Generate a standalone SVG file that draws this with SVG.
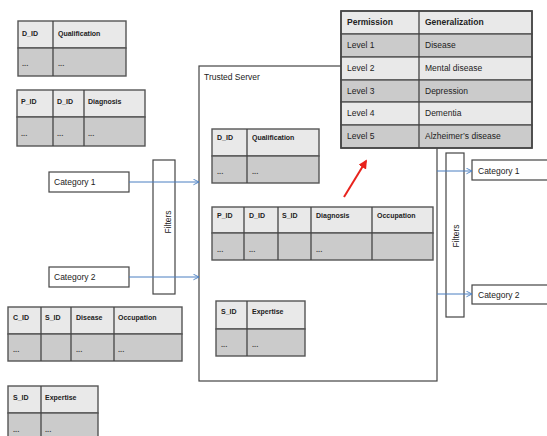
<svg xmlns="http://www.w3.org/2000/svg" width="547" height="436" viewBox="0 0 547 436">
<defs>
<style>
.hd{fill:#e9e9e9;stroke:#555;stroke-width:1.4}
.dt{fill:#cbcbcb;stroke:#555;stroke-width:1.4}
.cl{stroke:#444;stroke-width:1.3}
.th{font-family:"Liberation Sans",Arial,sans-serif;font-size:7px;font-weight:bold;fill:#222}
.td{font-family:"Liberation Sans",Arial,sans-serif;font-size:7.5px;font-weight:bold;fill:#444}
.pt{font-family:"Liberation Sans",Arial,sans-serif;font-size:8.5px;fill:#222}
.pb{font-family:"Liberation Sans",Arial,sans-serif;font-size:8.5px;font-weight:bold;fill:#222}
.lb{font-family:"Liberation Sans",Arial,sans-serif;font-size:8.5px;fill:#222}
.box{fill:#fff;stroke:#444;stroke-width:1.2}
.flt{fill:#fff;stroke:#444;stroke-width:1.2}
.arr{stroke:#4a7fc1;stroke-width:1;fill:none}
</style>
<marker id="ah" viewBox="0 0 10 10" refX="9" refY="5" markerWidth="7" markerHeight="7" orient="auto" markerUnits="userSpaceOnUse">
<path d="M1,1 L9,5 L1,9" fill="none" stroke="#4a7fc1" stroke-width="1.3"/>
</marker>
<marker id="rh" viewBox="0 0 10 10" refX="8" refY="5" markerWidth="9" markerHeight="9" orient="auto" markerUnits="userSpaceOnUse">
<path d="M0,0 L10,5 L0,10 z" fill="#e8221c"/>
</marker>
</defs>
<rect width="547" height="436" fill="#fff"/>

<!-- Trusted server -->
<g id="trusted-server">
<rect class="box" x="199" y="66" width="238" height="315" stroke-width="1.5"/>
<text class="lb" x="204" y="80">Trusted Server</text>
</g>

<!-- Left tables -->
<g id="t-doctor-left">
<rect class="hd" x="18" y="21" width="108" height="27"/>
<rect class="dt" x="18" y="48" width="108" height="28"/>
<line class="cl" x1="53" y1="21" x2="53" y2="76"/>
<text class="th" x="22" y="36">D_ID</text>
<text class="th" x="58" y="36">Qualification</text>
<text class="td" x="22" y="66">...</text>
<text class="td" x="58" y="66">...</text>
</g>
<g id="t-diagnosis-left">
<rect class="hd" x="17" y="90" width="128" height="27"/>
<rect class="dt" x="17" y="117" width="128" height="29"/>
<line class="cl" x1="53" y1="90" x2="53" y2="146"/>
<line class="cl" x1="84" y1="90" x2="84" y2="146"/>
<text class="th" x="21" y="104">P_ID</text>
<text class="th" x="57" y="104">D_ID</text>
<text class="th" x="88" y="104">Diagnosis</text>
<text class="td" x="21" y="136">...</text>
<text class="td" x="57" y="136">...</text>
<text class="td" x="88" y="136">...</text>
</g>
<g id="t-client-left">
<rect class="hd" x="8" y="307" width="174" height="27"/>
<rect class="dt" x="8" y="334" width="174" height="27"/>
<line class="cl" x1="41" y1="307" x2="41" y2="361"/>
<line class="cl" x1="71" y1="307" x2="71" y2="361"/>
<line class="cl" x1="114" y1="307" x2="114" y2="361"/>
<text class="th" x="13" y="320">C_ID</text>
<text class="th" x="45" y="320">S_ID</text>
<text class="th" x="76" y="320">Disease</text>
<text class="th" x="118" y="320">Occupation</text>
<text class="td" x="13" y="352">...</text>
<text class="td" x="76" y="352">...</text>
<text class="td" x="118" y="352">...</text>
</g>
<g id="t-staff-left">
<rect class="hd" x="8" y="386" width="90" height="27"/>
<rect class="dt" x="8" y="413" width="90" height="28"/>
<line class="cl" x1="41" y1="386" x2="41" y2="441"/>
<text class="th" x="13" y="400">S_ID</text>
<text class="th" x="45" y="400">Expertise</text>
<text class="td" x="13" y="432">...</text>
<text class="td" x="45" y="432">...</text>
</g>

<!-- Inner tables -->
<g id="t-doctor-inner">
<rect class="hd" x="212" y="129" width="107" height="27"/>
<rect class="dt" x="212" y="156" width="107" height="27"/>
<line class="cl" x1="247" y1="129" x2="247" y2="183"/>
<text class="th" x="217" y="140">D_ID</text>
<text class="th" x="252" y="140">Qualification</text>
<text class="td" x="217" y="174">...</text>
<text class="td" x="252" y="174">...</text>
</g>
<g id="t-record-inner">
<rect class="hd" x="212" y="207" width="221" height="26"/>
<rect class="dt" x="212" y="233" width="221" height="27"/>
<line class="cl" x1="244" y1="207" x2="244" y2="260"/>
<line class="cl" x1="278" y1="207" x2="278" y2="260"/>
<line class="cl" x1="311" y1="207" x2="311" y2="260"/>
<line class="cl" x1="372" y1="207" x2="372" y2="260"/>
<text class="th" x="217" y="218">P_ID</text>
<text class="th" x="249" y="218">D_ID</text>
<text class="th" x="282" y="218">S_ID</text>
<text class="th" x="316" y="218">Diagnosis</text>
<text class="th" x="377" y="218">Occupation</text>
<text class="td" x="217" y="252">...</text>
<text class="td" x="249" y="252">...</text>
<text class="td" x="316" y="252">...</text>
</g>
<g id="t-staff-inner">
<rect class="hd" x="216" y="301" width="89" height="28"/>
<rect class="dt" x="216" y="329" width="89" height="27"/>
<line class="cl" x1="247" y1="301" x2="247" y2="356"/>
<text class="th" x="221" y="314">S_ID</text>
<text class="th" x="252" y="314">Expertise</text>
<text class="td" x="221" y="347">...</text>
<text class="td" x="252" y="347">...</text>
</g>

<!-- Permission table -->
<g id="t-permission">
<rect class="hd" x="341" y="11" width="191" height="23"/>
<rect class="dt" x="341" y="34" width="191" height="23"/>
<rect class="hd" x="341" y="57" width="191" height="23"/>
<rect class="dt" x="341" y="80" width="191" height="22"/>
<rect class="hd" x="341" y="102" width="191" height="23"/>
<rect class="dt" x="341" y="125" width="191" height="23"/>
<rect x="341" y="11" width="191" height="137" fill="none" stroke="#444" stroke-width="1.6"/>
<line class="cl" x1="419" y1="11" x2="419" y2="148"/>
<text class="pb" x="347" y="25">Permission</text>
<text class="pb" x="425" y="25">Generalization</text>
<text class="pt" x="347" y="48">Level 1</text>
<text class="pt" x="425" y="48">Disease</text>
<text class="pt" x="347" y="71">Level 2</text>
<text class="pt" x="425" y="71">Mental disease</text>
<text class="pt" x="347" y="94">Level 3</text>
<text class="pt" x="425" y="94">Depression</text>
<text class="pt" x="347" y="116">Level 4</text>
<text class="pt" x="425" y="116">Dementia</text>
<text class="pt" x="347" y="139">Level 5</text>
<text class="pt" x="425" y="139">Alzheimer’s disease</text>
</g>

<!-- Left category and filter -->
<g id="cat1-left">
<rect class="box" x="49" y="172" width="80" height="20"/>
<text class="lb" x="54" y="185">Category 1</text>
</g>
<g id="cat2-left">
<rect class="box" x="49" y="267" width="80" height="20"/>
<text class="lb" x="54" y="280">Category 2</text>
</g>
<g id="filter-left">
<rect class="flt" x="153" y="160" width="22" height="134"/>
<text class="lb" font-size="9.5" text-anchor="middle" transform="translate(171,222) rotate(-90)">Filters</text>
</g>

<!-- Right filter and categories -->
<g id="filter-right">
<rect class="flt" x="446" y="153" width="18" height="164"/>
<text class="lb" font-size="9.5" text-anchor="middle" transform="translate(458.5,236) rotate(-90)">Filters</text>
</g>
<g id="cat1-right">
<rect class="box" x="472" y="160" width="80" height="20"/>
<text class="lb" x="478" y="174">Category 1</text>
</g>
<g id="cat2-right">
<rect class="box" x="472" y="285" width="80" height="19"/>
<text class="lb" x="478" y="298">Category 2</text>
</g>

<!-- Connectors -->
<g id="connectors">
<line class="arr" x1="129" y1="182" x2="199" y2="182" marker-end="url(#ah)"/>
<line class="arr" x1="129" y1="277" x2="199" y2="277" marker-end="url(#ah)"/>
<line class="arr" x1="437" y1="171" x2="472" y2="171" marker-end="url(#ah)"/>
<line class="arr" x1="437" y1="294" x2="472" y2="294" marker-end="url(#ah)"/>
<line x1="344" y1="197" x2="366" y2="161" stroke="#e8221c" stroke-width="2" marker-end="url(#rh)"/>
</g>
</svg>
